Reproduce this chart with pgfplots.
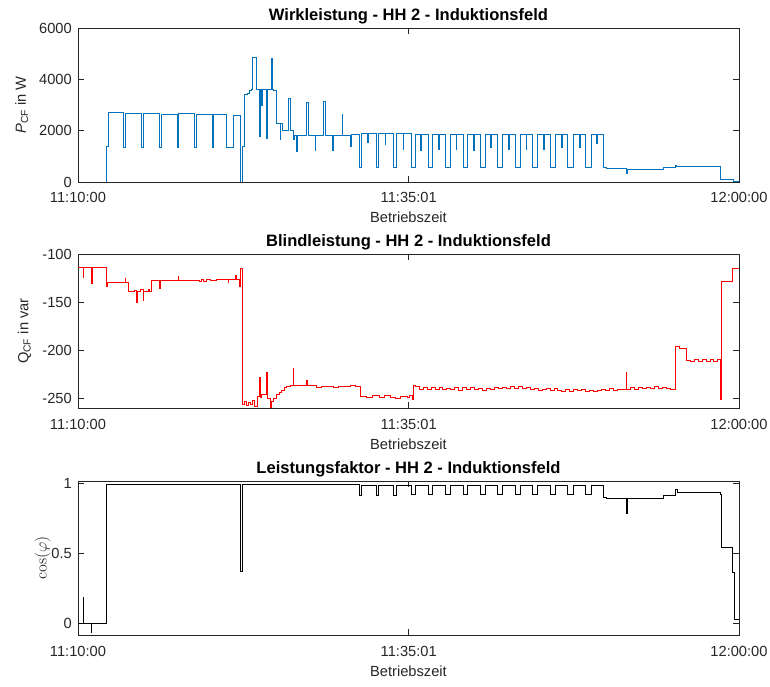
\documentclass[border=0pt]{standalone}
\usepackage[no-math]{fontspec}
\setmainfont{Liberation Sans}
\usepackage{pgfplots}
\pgfplotsset{compat=1.18}

\definecolor{mblue}{RGB}{0,114,189}
\definecolor{axgray}{RGB}{38,38,38}

\pgfplotsset{
  mstyle/.style={
    width=495.75pt, height=115.5pt, scale only axis,
    xmin=0, xmax=50,
    xtick={0,25.0167,50},
    xticklabels={11:10:00,11:35:01,12:00:00},
    tick align=inside, tick pos=both,
    major tick length=4.5pt,
    axis line style={axgray, line width=0.6pt},
    every tick/.style={axgray, line width=0.6pt},
    tick label style={font=\fontsize{11}{13}\selectfont, text=axgray},
    /pgf/number format/assume math mode=true,
    /pgf/number format/1000 sep={},
    scaled y ticks=false,
    xticklabel style={anchor=base, yshift=-15.75pt, inner sep=0pt},
    yticklabel style={anchor=east, xshift=-4.5pt, inner sep=0pt},
    xlabel={Betriebszeit},
    xlabel style={at={(axis description cs:0.5,0)}, anchor=base, yshift=-30.75pt, font=\fontsize{11}{13}\selectfont, text=axgray, inner sep=0pt},
    every axis title shift=0pt,
    title style={at={(axis description cs:0.5,1)}, anchor=base, yshift=6pt, font=\bfseries\fontsize{12.4}{14}\selectfont, inner sep=0pt},
  }
}

\begin{document}
\begin{tikzpicture}
\path[use as bounding box] (0,0) rectangle (577.5pt,-514.5pt);

% ---------- Wirkleistung ----------
\begin{axis}[mstyle,
  at={(58.5pt,-21pt)}, anchor=north west,
  ymin=0, ymax=6000, ytick={0,2000,4000,6000},
  title={Wirkleistung - HH 2 - Induktionsfeld},
  ylabel={\textit{P}\textsubscript{CF} in W},
  ylabel style={at={(axis description cs:-0.0787,0.5)}, anchor=base, font=\fontsize{11}{13}\selectfont, text=axgray, inner sep=0pt},
]
\addplot[const plot, mblue, line width=0.6pt] coordinates {
(0,0) (2.12,1390) (2.29,2700) (3.43,1365) (3.58,2660) (4.82,1365) (4.94,2680)
(6.15,1365) (6.28,2650) (7.49,1365) (7.61,2660) (8.83,1365) (8.95,2640)
(10.14,1365) (10.26,2630) (11.25,1330) (11.75,2600) (12.28,0) (12.43,1390)
(12.56,3400) (12.8,3470) (13.0,3580) (13.1,3620) (13.21,4870) (13.51,3620)
(13.71,1780) (13.76,3620) (13.86,2975) (13.93,3620) (14.27,1715) (14.34,3620)
(14.6,4810) (14.7,3620) (14.77,3560) (15.03,2290) (15.28,1650) (15.33,2290)
(15.48,2000) (15.91,3250) (16.09,2000) (16.3,1675) (16.35,1830) (16.52,1195)
(16.57,1830) (17.25,3120) (17.42,1830) (17.93,1235) (17.98,1830) (18.58,3145)
(18.68,1830) (19.26,1235) (19.31,1830) (19.97,2625) (20.02,1830) (20.6,1390)
(20.65,1850) (21.28,570) (21.41,1900) (21.91,1545) (21.96,1900) (22.54,585)
(22.74,1890) (23.22,1455) (23.27,1890) (23.85,585) (24.05,1880) (24.6,1270)
(24.65,1880) (25.19,570) (25.49,1870) (25.92,1240) (25.97,1870) (26.5,570)
(26.8,1870) (27.26,1260) (27.31,1870) (27.81,570) (28.14,1870) (28.59,1260)
(28.64,1870) (29.15,570) (29.48,1870) (29.9,1235) (29.95,1870) (30.46,570)
(30.84,1870) (31.2,1330) (31.25,1870) (31.74,570) (32.12,1870) (32.55,1260)
(32.6,1870) (33.06,570) (33.43,1870) (33.89,1260) (33.94,1870) (34.39,570)
(34.77,1870) (35.2,1260) (35.25,1870) (35.7,570) (36.08,1870) (36.59,1330)
(36.64,1870) (37.04,570) (37.47,1870) (37.92,1330) (37.97,1870) (38.4,570)
(38.86,1870) (39.23,1520) (39.28,1870) (39.74,570) (39.99,520) (41.5,330)
(41.55,505) (44.28,550) (45.2,640) (45.3,590) (48.56,117) (49.57,26) (50,26)
};
\end{axis}

% ---------- Blindleistung ----------
\begin{axis}[mstyle,
  at={(58.5pt,-190.5pt)}, anchor=north west,
  ymin=-260, ymax=-100, ytick={-250,-200,-150,-100},
  title={Blindleistung - HH 2 - Induktionsfeld},
  ylabel={Q\textsubscript{CF} in var},
  ylabel style={at={(axis description cs:-0.0749,0.5)}, anchor=base, font=\fontsize{11}{13}\selectfont, text=axgray, inner sep=0pt},
]
\addplot[const plot, red, line width=0.6pt] coordinates {
(0,-114) (0.38,-124.4) (0.43,-114) (1.01,-130.7) (1.06,-114) (2.12,-134)
(2.25,-129.7) (3.55,-125.5) (3.6,-129.7) (3.81,-139) (4.3,-138) (4.44,-150)
(4.48,-139) (4.7,-137) (4.94,-148) (4.98,-138.4) (5.3,-137) (5.4,-139)
(5.57,-127.9) (6.18,-135.6) (6.22,-127.5) (7.57,-123.5) (7.62,-127.2)
(8.5,-127.5) (9.2,-128.5) (9.3,-126.5) (9.5,-128) (9.7,-126) (10.0,-127)
(10.5,-126.5) (11.35,-130) (11.4,-126.5) (11.9,-122.5) (11.95,-126.5)
(12.22,-133.5) (12.27,-115) (12.46,-256) (12.6,-253) (12.75,-257) (12.9,-254)
(13.05,-256) (13.2,-252) (13.35,-258) (13.59,-248) (13.72,-228) (13.76,-249)
(13.89,-246) (14.27,-223) (14.31,-250) (14.52,-259) (14.65,-253) (14.8,-250)
(15.03,-245.5) (15.2,-244) (15.4,-242) (15.6,-239) (15.78,-238) (16.04,-236)
(16.29,-218.6) (16.33,-237) (16.6,-236) (17.0,-236.5) (17.3,-231) (17.35,-236.5)
(17.7,-237) (18.05,-239) (18.4,-238) (18.8,-237.5) (19.3,-238.5) (19.7,-237.5)
(20.2,-238) (20.6,-237) (21.0,-238) (21.33,-247.5) (21.8,-248.5) (22.3,-247)
(22.8,-249) (23.2,-247) (23.6,-248.5) (24.0,-250) (24.4,-247.5) (24.9,-249)
(25.1,-247) (25.3,-251.5) (25.37,-237)
(25.49,-238) (25.8,-240.5) (26.1,-238.5) (26.4,-241) (26.7,-239) (27.0,-240.5)
(27.3,-238.5) (27.6,-241) (27.9,-239.5) (28.2,-240.5) (28.5,-238.5) (28.8,-241.5)
(29.1,-239) (29.4,-240.5) (29.7,-238.5) (30.0,-241) (30.3,-240) (30.6,-242)
(30.9,-239.5) (31.2,-240.5) (31.5,-239) (31.8,-240) (32.1,-238.5) (32.4,-240)
(32.7,-238) (33.0,-239.5) (33.3,-237.5) (33.6,-240) (33.9,-238.5) (34.2,-241)
(34.5,-240) (34.8,-242) (35.1,-241) (35.4,-239.5) (35.7,-241.5) (36.0,-240)
(36.3,-241.5) (36.6,-243) (36.9,-241) (37.2,-242.5) (37.5,-240.5) (37.8,-242)
(38.1,-241) (38.4,-242.5) (38.7,-241.5) (39.0,-243) (39.3,-242) (39.6,-240.5)
(39.9,-241.5) (40.2,-240) (40.5,-242) (40.8,-240.5) (41.1,-241) (41.46,-222.8)
(41.52,-240.5) (41.8,-239) (42.1,-240.5) (42.4,-238.5) (42.7,-240) (43.0,-238.5)
(43.3,-239.5) (43.6,-238) (43.9,-240) (44.2,-239) (44.5,-240) (44.8,-240.5)
(45.16,-195.5) (45.5,-198.5) (46.04,-210.5) (46.3,-212) (46.6,-210) (46.9,-211.5)
(47.2,-210) (47.5,-212) (47.8,-209) (48.1,-211.5) (48.4,-210) (48.56,-251)
(48.64,-128) (49.52,-114.7) (50,-114.7)
};
\end{axis}

% ---------- Leistungsfaktor ----------
\begin{axis}[mstyle,
  at={(58.5pt,-360.75pt)}, anchor=north west,
  ymin=-0.08, ymax=1.02, ytick={0,0.5,1},
  title={Leistungsfaktor - HH 2 - Induktionsfeld},
  ylabel={$\cos(\varphi)$},
  ylabel style={at={(axis description cs:-0.0474,0.5)}, anchor=base, font=\fontsize{12}{14}\selectfont, text=axgray, inner sep=0pt},
]
\addplot[const plot, black, line width=0.6pt] coordinates {
(0,0.005) (0.38,0.19) (0.42,0.005) (1.01,-0.06) (1.05,0.005) (2.12,0.998)
(12.3,0.374) (12.4,0.998) (21.28,0.915) (21.41,0.99) (22.54,0.92) (22.74,0.99)
(23.85,0.92) (24.05,0.99) (25.19,0.927) (25.49,0.99) (26.5,0.927) (26.8,0.99)
(27.81,0.927) (28.14,0.99) (29.15,0.927) (29.48,0.99) (30.46,0.927) (30.84,0.99)
(31.74,0.927) (32.12,0.99) (33.06,0.927) (33.43,0.99) (34.39,0.927) (34.77,0.99)
(35.7,0.927) (36.08,0.99) (37.04,0.927) (37.47,0.99) (38.4,0.927) (38.86,0.99)
(39.74,0.905) (40.0,0.898) (41.5,0.79) (41.55,0.898) (44.28,0.915) (45.2,0.957)
(45.35,0.94) (48.56,0.925) (48.68,0.548) (49.52,0.366) (49.62,0.035) (50,0.04)
};
\end{axis}
\end{tikzpicture}
\end{document}
